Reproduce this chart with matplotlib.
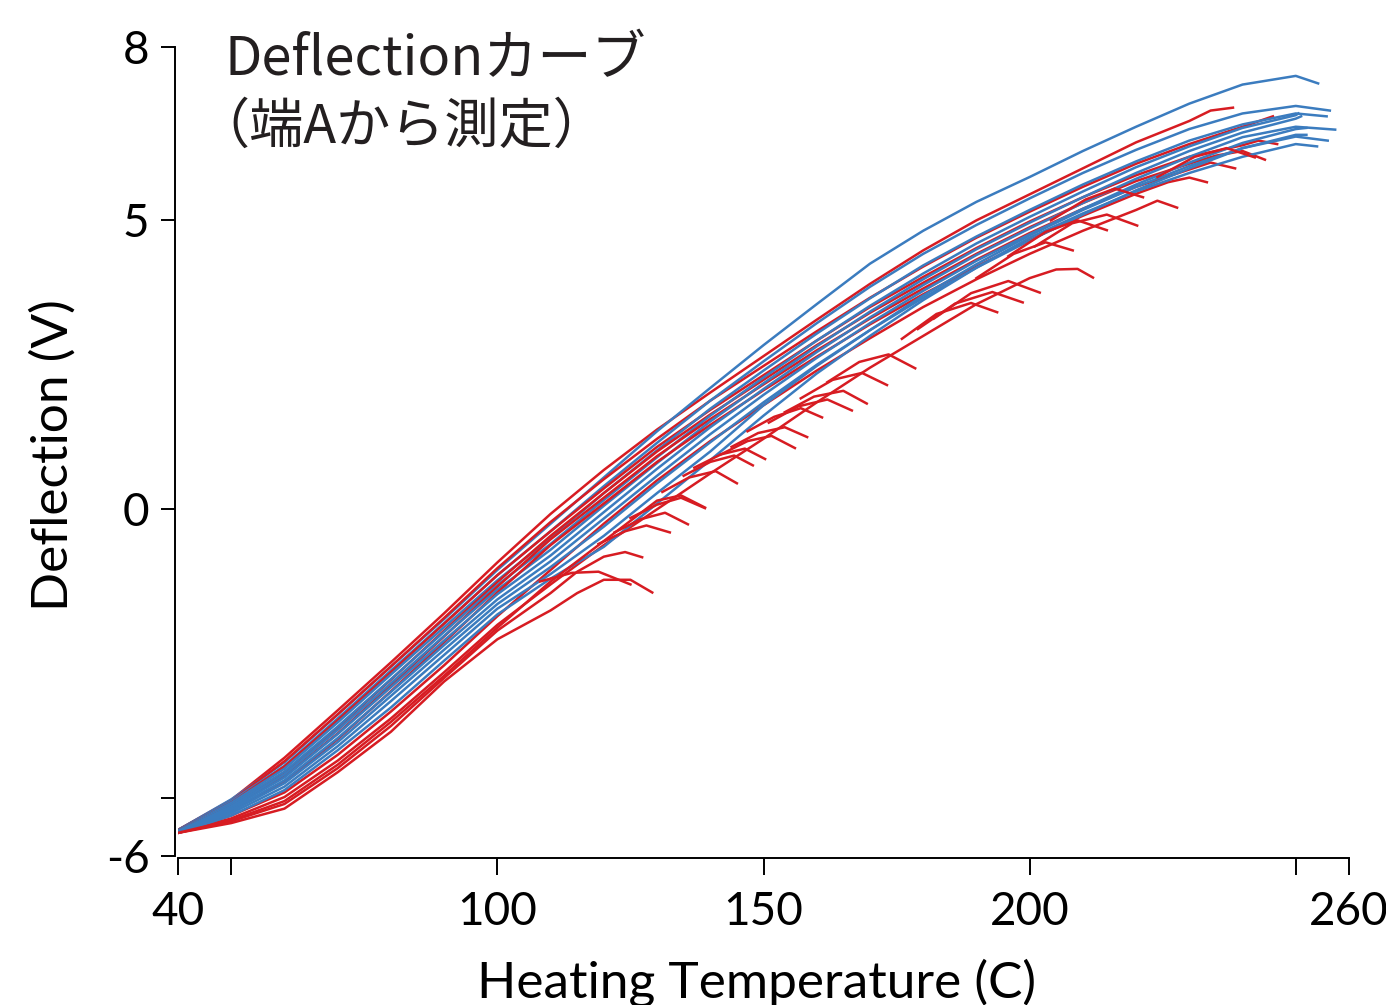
import matplotlib
matplotlib.use("Agg")
import matplotlib.pyplot as plt
from matplotlib.ticker import FixedLocator

temp_grid = [40, 50, 60, 70, 80, 90, 100, 110, 120, 130, 140,
             150, 160, 170, 180, 190, 200, 210, 220, 230, 240, 250]

# blue curves: deflection (V) at temp_grid, then last point
blue_y = [
    [-5.55, -5.02, -4.38, -3.55, -2.72, -1.90, -1.05, -0.25, 0.55, 1.35, 2.10, 2.84, 3.55, 4.25, 4.82, 5.32, 5.75, 6.20, 6.62, 7.02, 7.35, 7.50],
    [-5.55, -5.05, -4.44, -3.62, -2.79, -1.97, -1.14, -0.38, 0.40, 1.15, 1.88, 2.56, 3.22, 3.85, 4.42, 4.92, 5.38, 5.82, 6.22, 6.58, 6.85, 6.98],
    [-5.56, -5.08, -4.49, -3.69, -2.86, -2.04, -1.23, -0.50, 0.28, 1.02, 1.74, 2.40, 3.04, 3.65, 4.22, 4.72, 5.18, 5.62, 6.02, 6.38, 6.66, 6.85],
    [-5.56, -5.11, -4.54, -3.76, -2.94, -2.12, -1.31, -0.60, 0.16, 0.90, 1.62, 2.28, 2.92, 3.52, 4.08, 4.60, 5.06, 5.50, 5.92, 6.28, 6.60, 6.82],
    [-5.57, -5.14, -4.59, -3.82, -3.01, -2.19, -1.39, -0.70, 0.06, 0.80, 1.52, 2.18, 2.82, 3.42, 3.98, 4.50, 4.96, 5.40, 5.82, 6.20, 6.52, 6.76],
    [-5.57, -5.17, -4.64, -3.89, -3.08, -2.27, -1.47, -0.80, -0.05, 0.70, 1.42, 2.08, 2.72, 3.32, 3.88, 4.40, 4.86, 5.30, 5.72, 6.10, 6.44, 6.62],
    [-5.58, -5.20, -4.69, -3.96, -3.16, -2.35, -1.56, -0.90, -0.16, 0.58, 1.30, 1.98, 2.62, 3.22, 3.78, 4.30, 4.76, 5.20, 5.62, 6.00, 6.34, 6.58],
    [-5.58, -5.23, -4.74, -4.03, -3.23, -2.43, -1.64, -1.00, -0.30, 0.45, 1.16, 1.85, 2.50, 3.10, 3.66, 4.18, 4.65, 5.10, 5.52, 5.90, 6.25, 6.48],
    [-5.59, -5.26, -4.80, -4.10, -3.32, -2.52, -1.72, -1.12, -0.46, 0.28, 1.00, 1.80, 2.48, 3.10, 3.70, 4.24, 4.74, 5.18, 5.58, 5.94, 6.25, 6.45],
    [-5.60, -5.30, -4.86, -4.17, -3.43, -2.62, -1.82, -1.20, -0.65, 0.10, 0.85, 1.62, 2.35, 3.00, 3.62, 4.18, 4.70, 5.12, 5.50, 5.82, 6.10, 6.32],
]
blue_end_t = [254.2, 256.4, 255.8, 250.5, 251.0, 257.4, 252.0, 252.0, 256.0, 254.0]
blue_end_y = [7.37, 6.90, 6.80, 6.85, 6.80, 6.57, 6.60, 6.48, 6.38, 6.28]

# red curves: deflection at temp_grid (as far as each goes), then its drooping tail
red_y = [
    [-5.55, -5.03, -4.30, -3.48, -2.65, -1.80, -0.92, -0.08, 0.68, 1.38, 2.02, 2.65, 3.28, 3.90, 4.48, 5.00, 5.45, 5.90, 6.35, 6.72],
    [-5.55, -5.05, -4.36, -3.55, -2.72, -1.88, -1.02, -0.22, 0.52, 1.22, 1.88, 2.48, 3.08, 3.66, 4.20, 4.70, 5.15, 5.58, 5.98, 6.32, 6.62],
    [-5.56, -5.08, -4.45, -3.65, -2.82, -1.98, -1.14, -0.38, 0.36, 1.08, 1.72, 2.32, 2.92, 3.50, 4.02, 4.52, 4.98, 5.40, 5.78, 6.10, 6.30],
    [-5.56, -5.12, -4.55, -3.78, -2.95, -2.10, -1.26, -0.46, 0.28, 1.00, 1.64, 2.24, 2.84, 3.40, 3.92, 4.42, 4.88, 5.30, 5.68, 5.98],
    [-5.57, -5.15, -4.62, -3.88, -3.05, -2.20, -1.34, -0.52, 0.20, 0.92, 1.56, 2.16, 2.75, 3.30, 3.82, 4.32, 4.78, 5.20, 5.58, 5.88],
    [-5.58, -5.20, -4.72, -3.98, -3.15, -2.30, -1.44, -0.62, 0.10, 0.82, 1.46, 2.06, 2.64, 3.20, 3.72, 4.20, 4.66, 5.08, 5.46],
    [-5.60, -5.30, -4.90, -4.25, -3.50, -2.70, -1.85, -1.05, -0.25, 0.50, 1.18, 1.80, 2.40, 2.96, 3.50, 3.98, 4.42, 4.82, 5.18],
    [-5.60, -5.35, -4.98, -4.35, -3.62, -2.82, -2.00, -1.30, -0.62, 0.00, 0.62, 1.22, 1.85, 2.45, 3.00, 3.55, 4.00],
    [-5.60, -5.43, -5.18, -4.55, -3.85, -2.98, -2.25, -1.75],
    [-5.60, -5.40, -5.10, -4.48, -3.75, -2.92, -2.10, -1.45],
    [-5.60, -5.38, -5.05, -4.42, -3.68, -2.88, -2.05, -1.25, -0.55, 0.15],
]
red_tail_t = [
    [234.0, 238.2],
    [245.7],
    [243.0, 246.5],
    [235.0, 240.0, 244.2],
    [234.0, 238.6],
    [226.0, 230.0, 233.3],
    [224.0, 227.7],
    [205.0, 209.0, 211.9],
    [115.0, 120.0, 125.0, 129.1],
    [115.0, 120.0, 124.0, 127.2],
    [134.5, 139.0],
]
red_tail_y = [
    [6.90, 6.95],
    [6.80],
    [6.38, 6.32],
    [6.12, 6.20, 6.05],
    [6.00, 5.90],
    [5.66, 5.74, 5.66],
    [5.34, 5.22],
    [4.15, 4.16, 4.01],
    [-1.45, -1.22, -1.22, -1.44],
    [-1.08, -0.82, -0.74, -0.83],
    [0.24, 0.03],
]

# short cooling branches hanging off the red bundle: start, rise, peak, tip
branch_t = [
    [108.0, 114.0, 119.0, 125.0], [119.0, 124.0, 128.0, 132.4],
    [122.0, 127.0, 131.5, 135.8], [125.0, 130.0, 134.5, 139.0],
    [131.0, 136.0, 141.0, 145.0], [135.0, 140.0, 144.5, 148.0],
    [137.0, 142.0, 146.5, 150.3], [142.0, 147.0, 151.5, 155.9],
    [144.0, 149.0, 154.0, 158.2], [147.0, 152.0, 157.0, 161.0],
    [151.0, 156.5, 162.0, 166.6], [154.0, 159.5, 165.0, 169.4],
    [157.0, 163.0, 168.5, 173.2], [162.0, 168.0, 173.5, 178.5],
    [176.0, 182.5, 189.0, 193.9], [179.0, 186.0, 193.0, 198.7],
    [182.0, 189.0, 196.0, 201.9], [190.0, 197.0, 203.0, 208.1],
    [196.0, 203.0, 209.0, 214.5], [201.0, 208.0, 214.5, 220.2],
    [204.0, 210.5, 216.0, 221.3], [224.0, 231.0, 237.0, 242.3],
]
branch_y = [
    [-1.25, -1.10, -1.08, -1.30], [-0.60, -0.38, -0.28, -0.40],
    [-0.40, -0.17, -0.06, -0.26], [-0.15, 0.08, 0.20, 0.02],
    [0.30, 0.55, 0.66, 0.45], [0.58, 0.82, 0.93, 0.76],
    [0.72, 0.95, 1.05, 0.87], [0.95, 1.18, 1.27, 1.06],
    [1.08, 1.32, 1.42, 1.25], [1.35, 1.60, 1.75, 1.59],
    [1.50, 1.78, 1.90, 1.71], [1.68, 1.95, 2.05, 1.83],
    [1.92, 2.24, 2.36, 2.15], [2.20, 2.55, 2.68, 2.44],
    [2.95, 3.38, 3.57, 3.41], [3.12, 3.56, 3.76, 3.58],
    [3.30, 3.74, 3.95, 3.75], [4.00, 4.42, 4.62, 4.48],
    [4.38, 4.80, 5.00, 4.83], [4.55, 4.95, 5.10, 4.91],
    [5.00, 5.36, 5.55, 5.40], [5.75, 6.10, 6.25, 6.09],
]

BLUE = "#3b7cbf"
RED = "#d71c22"
LW = 1.8

fig = plt.figure(figsize=(13.86, 10.05), dpi=100)
ax = fig.add_axes([178 / 1386, 1 - 856 / 1005, 1171 / 1386, 809 / 1005])

n = max(len(blue_y), len(red_y))
for i in range(n):
    if i < len(red_y):
        t = temp_grid[:len(red_y[i])] + red_tail_t[i]
        ax.plot(t, red_y[i] + red_tail_y[i], color=RED, lw=LW)
    if i < len(blue_y):
        t = temp_grid + [blue_end_t[i]]
        ax.plot(t, blue_y[i] + [blue_end_y[i]], color=BLUE, lw=LW)
for bt, by in zip(branch_t, branch_y):
    ax.plot(bt, by, color=RED, lw=LW)

ax.set_xlim(40, 260)
ax.set_ylim(-6, 8)

for s in ["top", "right"]:
    ax.spines[s].set_visible(False)
ax.spines["left"].set_position(("outward", 2.5))
ax.spines["bottom"].set_position(("outward", 1.5))
for s in ["left", "bottom"]:
    ax.spines[s].set_linewidth(1.4)

tick_font = {"family": "Lato", "size": 33}
ax.xaxis.set_major_locator(FixedLocator([40, 50, 100, 150, 200, 250, 260]))
ax.set_xticklabels(["40", "", "100", "150", "200", "", "260"], fontdict=tick_font)
ax.yaxis.set_major_locator(FixedLocator([-6, -5, 0, 5, 8]))
ax.set_yticklabels(["-6", "", "0", "5", "8"], fontdict=tick_font)
ax.tick_params(axis="x", length=12, width=1.4, pad=12)
ax.tick_params(axis="y", length=10, width=1.4, pad=8)

ax.set_xlabel("Heating Temperature (C)", family="Lato", size=37, va="top")
ax.xaxis.set_label_coords(0.494, -0.127)
ax.set_ylabel("Deflection (V)", family="Lato", size=37)
ax.yaxis.set_label_coords(-0.087, 0.496)

title_font = ["Noto Sans CJK JP", "DejaVu Sans"]
fig.text(225 / 1386, 1 - 75 / 1005, "Deflectionカーブ", family=title_font,
         size=39, color="#231f20", va="baseline")
fig.text(195 / 1386, 1 - 143 / 1005, "（端Aから測定）", family=title_font,
         size=39, color="#231f20", va="baseline")

fig.savefig("out.png", dpi=100)
